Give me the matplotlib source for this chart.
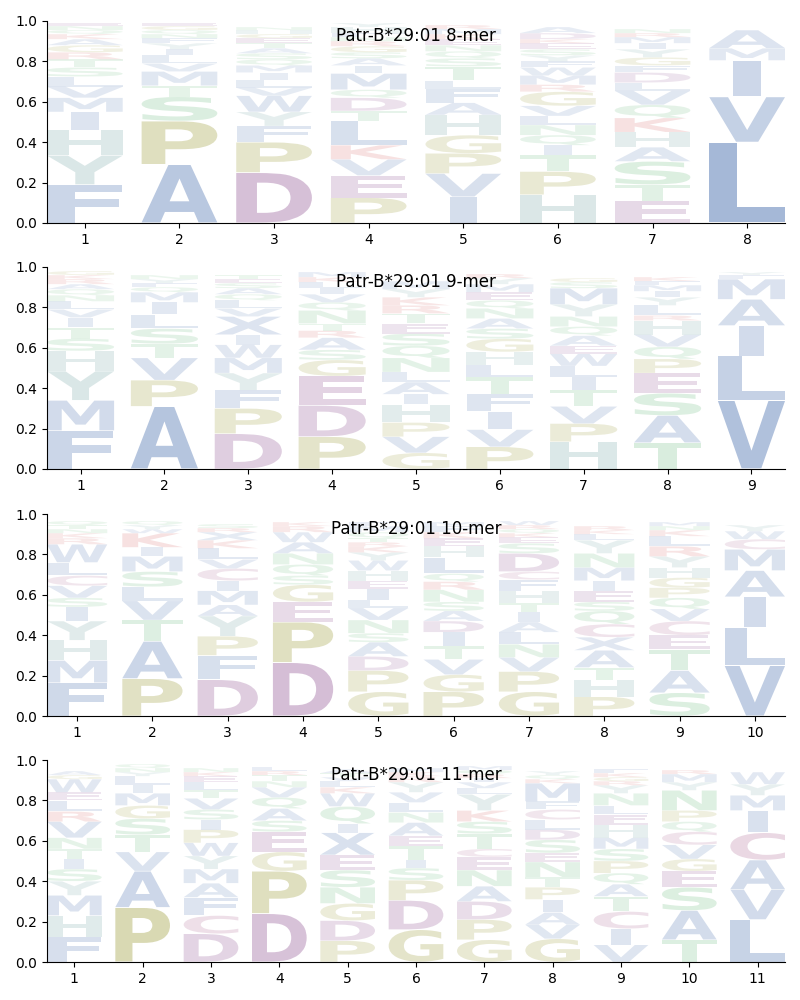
import matplotlib
matplotlib.use("Agg")
import matplotlib.pyplot as plt
from matplotlib.textpath import TextPath
from matplotlib.font_manager import FontProperties
from matplotlib.patches import PathPatch
from matplotlib.transforms import Affine2D

# ---------------- data ----------------
titles = ["Patr-B*29:01 8-mer", "Patr-B*29:01 9-mer",
          "Patr-B*29:01 10-mer", "Patr-B*29:01 11-mer"]

# stacks listed bottom -> top
letters_8 = ["FYHIMVLSTRGAKQNE", "APSTMVLIYFNQGE", "DPFYWVLIMQSATEGHN",
             "PEVKLTDQMIASGRNFHY", "IVPGHAFLTSQNEKMR", "HPTIQNLVGRMWFYSEKDA",
             "ETSAHKQVLDFGYIMRN", "LVIMA"]
heights_8 = [[.19, .145, .125, .09, .07, .055, .05, .045, .04, .035, .035, .03, .025, .02, .02, .015],
             [.29, .215, .12, .055, .07, .04, .04, .03, .03, .025, .02, .02, .02, .015],
             [.25, .15, .08, .07, .08, .04, .04, .035, .035, .03, .03, .025, .025, .025, .02, .02, .015],
             [.125, .11, .08, .07, .12, .05, .065, .04, .08, .04, .035, .03, .03, .025, .02, .02, .03, .02],
             [.13, .115, .1, .09, .1, .06, .07, .04, .07, .04, .035, .03, .03, .025, .025, .02],
             [.14, .115, .08, .05, .05, .05, .045, .05, .07, .035, .045, .04, .03, .03, .03, .03, .02, .03, .03],
             [.11, .08, .115, .07, .075, .07, .065, .07, .04, .05, .035, .04, .04, .03, .03, .02, .02],
             [.40, .225, .18, .06, .09]]

letters_9 = ["FMYHSTIVLNQARKG", "APVTSLIMQFYN", "DPFYMWIXVLQASET",
             "PDEGSARTNQVILKM", "GVPHIALNQSETRKYM", "PVIFTLHGSANQEMYR",
             "HPVTILWEAQNYMSG", "TASEPQVHRLYIMFK", "VLIAMFY"]
heights_9 = [[.19, .15, .145, .1, .06, .055, .05, .04, .04, .03, .03, .025, .025, .02, .02],
             [.31, .13, .11, .07, .075, .07, .06, .05, .025, .02, .02, .02],
             [.175, .125, .09, .085, .075, .065, .05, .09, .04, .04, .03, .03, .025, .02, .02],
             [.16, .155, .145, .08, .05, .06, .035, .035, .065, .04, .04, .03, .03, .025, .025],
             [.08, .08, .07, .09, .05, .06, .05, .07, .06, .06, .05, .05, .04, .04, .04, .04],
             [.11, .085, .09, .085, .085, .06, .065, .065, .05, .05, .05, .04, .04, .04, .03, .02],
             [.135, .09, .085, .08, .065, .055, .06, .04, .05, .045, .05, .06, .08, .03, .02],
             [.13, .135, .11, .1, .07, .06, .06, .07, .025, .05, .04, .03, .03, .02, .02],
             [.34, .22, .15, .13, .10, .02, .015]]

letters_10 = ["FMHYISVCLWRKNTQ", "PATVLSMIKWYQ", "DFPYAMICVLKXRS",
              "DPEGSQNAWRK", "GPDASNVLIEHWYKRTQMF", "PGVTIDASNRQLHEKFM",
              "GPVNLAITHFCDSEKQRW", "PHTAXCQSEIMNYLKR", "SATECVQPGHYRLKNM",
              "VLIAMCWY"]
heights_10 = [[.165, .11, .1, .095, .07, .045, .06, .05, .065, .09, .03, .025, .02, .02, .02],
              [.185, .185, .105, .095, .07, .075, .075, .045, .07, .02, .02, .02],
              [.18, .12, .095, .1, .055, .07, .05, .06, .045, .055, .04, .04, .02, .02],
              [.265, .2, .1, .085, .045, .055, .055, .055, .05, .03, .02],
              [.12, .105, .07, .07, .045, .065, .06, .04, .055, .04, .05, .05, .04, .03, .02, .02, .03, .03, .02],
              [.12, .085, .075, .065, .07, .055, .05, .045, .06, .04, .04, .08, .055, .04, .03, .03, .02],
              [.12, .1, .07, .065, .06, .05, .05, .045, .06, .055, .04, .09, .05, .03, .02, .02, .02, .02],
              [.095, .085, .06, .085, .065, .065, .065, .045, .055, .05, .065, .07, .065, .03, .02, .02],
              [.115, .11, .105, .07, .07, .06, .055, .05, .05, .05, .055, .05, .05, .03, .02, .02],
              [.25, .19, .15, .13, .105, .05, .04, .03]]

letters_11 = ["FHMYSITNVRLEWGA", "PAVTSGMILYNQ", "DCFAMYWPISVTLEKN",
              "DPGESAQVNTRL", "PDGNSEXIQWKLVTA", "GDPSITEANLVYRKM",
              "GPDANECTSKYLVIRQM", "GVAIPTNESDLCFMKQY", "VICTAQPSMHELNYRGKF",
              "TASEGVCQPNYMR", "LVACIMYW"]
heights_11 = [[.125, .105, .1, .07, .06, .05, .05, .055, .08, .05, .055, .04, .065, .02, .02],
              [.27, .18, .095, .085, .08, .065, .06, .04, .045, .02, .02, .02],
              [.14, .09, .09, .07, .07, .065, .065, .065, .05, .05, .055, .04, .04, .03, .02, .02],
              [.24, .21, .095, .1, .055, .06, .055, .05, .03, .03, .02, .02],
              [.105, .1, .085, .08, .085, .075, .11, .045, .085, .065, .03, .03, .02, .02, .02],
              [.16, .145, .1, .06, .04, .07, .05, .065, .05, .05, .05, .05, .03, .02, .02],
              [.11, .1, .09, .075, .08, .065, .04, .075, .06, .055, .08, .03, .03, .02, .02, .02, .02],
              [.115, .07, .06, .065, .06, .05, .075, .045, .065, .05, .05, .05, .04, .09, .02, .02, .02],
              [.085, .08, .085, .075, .06, .055, .06, .06, .055, .065, .05, .045, .06, .04, .02, .02, .02, .02],
              [.11, .145, .115, .08, .06, .07, .065, .05, .055, .1, .04, .04, .02],
              [.21, .15, .145, .135, .11, .075, .055, .06]]

panels = [(titles[0], letters_8, heights_8),
          (titles[1], letters_9, heights_9),
          (titles[2], letters_10, heights_10),
          (titles[3], letters_11, heights_11)]

# ---------------- style ----------------
BLUE, OLIVE, PURPLE, PINK, TEAL, GREEN, RED = ("#4C72B0", "#999933", "#8C4D8F",
                                              "#A65A8A", "#6A9E9E", "#5DB572", "#D05050")
color_of = {}
for c in "AVLIMFWX":
    color_of[c] = BLUE
for c in "PG":
    color_of[c] = OLIVE
for c in "DE":
    color_of[c] = PURPLE
color_of["C"] = PINK
for c in "HY":
    color_of[c] = TEAL
for c in "STNQ":
    color_of[c] = GREEN
for c in "KR":
    color_of[c] = RED

fp = FontProperties(family="DejaVu Sans", weight="bold")
glyph_cache = {}


def glyph(ch):
    if ch not in glyph_cache:
        p = TextPath((0, 0), ch, size=1, prop=fp)
        glyph_cache[ch] = (p, p.get_extents())
    return glyph_cache[ch]


E_WIDTH = glyph("E")[1].width
VPAD = 0.02


def draw_letter(ax, ch, xc, y0, h, width=0.8):
    p, bb = glyph(ch)
    sx = min(width / bb.width, width / E_WIDTH)
    w = bb.width * sx
    gh = h * (1 - VPAD)
    tr = (Affine2D().translate(-bb.x0, -bb.y0)
          .scale(sx, gh / bb.height)
          .translate(xc - w / 2, y0 + h * VPAD / 2))
    path = tr.transform_path(p)
    alpha = min(1.0, 0.1 + h)
    ax.add_patch(PathPatch(path, facecolor=color_of.get(ch, BLUE),
                           edgecolor="none", lw=0, alpha=alpha))


fig = plt.figure(figsize=(8, 10), dpi=100)
tops = [21, 267, 514, 760]
for (title, letters, heights), top in zip(panels, tops):
    ax = fig.add_axes([47 / 800, 1 - (top + 202) / 1000, 738 / 800, 202 / 1000])
    n = len(letters)
    for i in range(n):
        y = 0.0
        for ch, h in zip(letters[i], heights[i]):
            draw_letter(ax, ch, i + 1, y, h)
            y += h
    ax.set_xlim(0.6, n + 0.4)
    ax.set_ylim(0, 1.0)
    ax.set_xticks(range(1, n + 1))
    ax.set_yticks([0, 0.2, 0.4, 0.6, 0.8, 1.0])
    ax.spines["top"].set_visible(False)
    ax.spines["right"].set_visible(False)
    ax.text(0.5, 0.926, title, transform=ax.transAxes, ha="center",
            va="center", fontsize=12)

fig.savefig("out.png", dpi=100)
